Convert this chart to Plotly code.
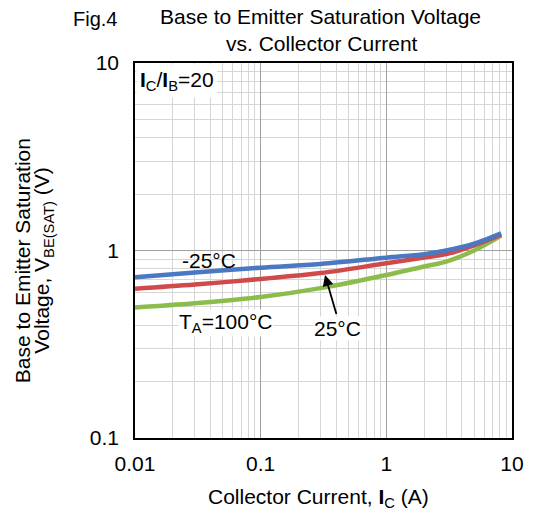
import plotly.graph_objects as go

current = [0.01, 0.03, 0.1, 0.3, 1, 2, 3, 5, 8.2]
vbe_m25 = [0.72, 0.764, 0.81, 0.848, 0.916, 0.956, 1.0, 1.088, 1.235]
vbe_25 = [0.625, 0.658, 0.705, 0.758, 0.855, 0.916, 0.956, 1.066, 1.215]
vbe_100 = [0.497, 0.523, 0.565, 0.63, 0.74, 0.822, 0.873, 1.0, 1.2]

x_ticks = [0.01, 0.1, 1, 10]
x_ticktext = ["0.01", "0.1", "1", "10"]
y_ticks = [0.1, 1, 10]
y_ticktext = ["0.1", "1", "10"]

FONT = "Liberation Sans, Arial, sans-serif"
FS = 21


def minor_vals(lo_exp, hi_exp):
    vals = []
    for e in range(lo_exp, hi_exp):
        for m in range(2, 10):
            vals.append(m * 10 ** e)
    return vals


fig = go.Figure()
for ys, col in [(vbe_100, "#8cbd4c"), (vbe_25, "#cf4a4a"), (vbe_m25, "#4a78c2")]:
    fig.add_trace(go.Scatter(x=current, y=ys, mode="lines",
                             line=dict(color=col, width=4.5, shape="spline"),
                             showlegend=False, hoverinfo="skip"))

axis_common = dict(type="log", showline=True, linecolor="black", linewidth=1.5,
                   mirror=True, gridcolor="#a0a0a0", gridwidth=1, ticks="",
                   tickfont=dict(family=FONT, size=FS, color="black"), zeroline=False)

fig.update_xaxes(range=[-2, 1], tickvals=x_ticks, ticktext=x_ticktext, ticklabelstandoff=6,
                 minor=dict(tickvals=minor_vals(-2, 1), showgrid=True, gridcolor="#d6d6d6", gridwidth=1),
                 **axis_common)
fig.update_yaxes(range=[-1, 1], tickvals=y_ticks, ticktext=y_ticktext, ticklabelstandoff=10,
                 minor=dict(tickvals=minor_vals(-1, 1), showgrid=True, gridcolor="#d6d6d6", gridwidth=1),
                 **axis_common)

fig.update_layout(
    width=536, height=515,
    margin=dict(l=135, r=20, t=63, b=77),
    paper_bgcolor="white", plot_bgcolor="white",
    font=dict(family=FONT, color="black"),
)

txt = dict(family=FONT, size=FS, color="black")


def paper_ann(text, x, y, size=FS, angle=0):
    fig.add_annotation(text=text, x=x, y=y, xref="paper", yref="paper",
                       xanchor="center", yanchor="middle", showarrow=False,
                       textangle=angle, font=dict(family=FONT, size=size, color="black"))


paper_ann("Fig.4", -0.105, 1.117, size=20)
paper_ann("Base to Emitter Saturation Voltage", 0.491, 1.1227, size=21)
paper_ann("vs. Collector Current", 0.496, 1.0533, size=21)
paper_ann("Collector Current, <b>I</b><sub>C</sub> (A)", 0.486, -0.16, size=21)
paper_ann("Base to Emitter Saturation", -0.3, 0.474, size=21, angle=-90)
paper_ann("Voltage, V<sub>BE(SAT)</sub> (V)", -0.243, 0.474, size=21, angle=-90)

# Data-positioned labels (log axes use log10 coordinates)
fig.add_annotation(text="<b>I</b><sub>C</sub>/<b>I</b><sub>B</sub>=20", x=-2, y=1, xref="x", yref="y",
                   xanchor="left", yanchor="top", showarrow=False, xshift=1, yshift=-1,
                   font=txt, bgcolor="white", borderpad=3)
fig.add_annotation(text="-25°C", x=-1.409, y=-0.052, xref="x", yref="y", showarrow=False, font=txt)
fig.add_annotation(text="T<sub>A</sub>=100°C", x=-1.276, y=-0.385, xref="x", yref="y", showarrow=False,
                   font=txt, bgcolor="white", borderpad=0)
fig.add_annotation(text="25°C", x=-0.386, y=-0.414, xref="x", yref="y", showarrow=False,
                   font=txt, bgcolor="white", borderpad=0)
fig.add_annotation(text="", x=-0.488, y=-0.131, ax=-0.394, ay=-0.346, xref="x", yref="y",
                   axref="x", ayref="y", showarrow=True, arrowhead=2, arrowsize=1.2,
                   arrowwidth=1.8, arrowcolor="black")

fig.write_html("out.html", config={"displayModeBar": False},
               post_script="document.body.style.margin='0';document.body.style.padding='0';")
